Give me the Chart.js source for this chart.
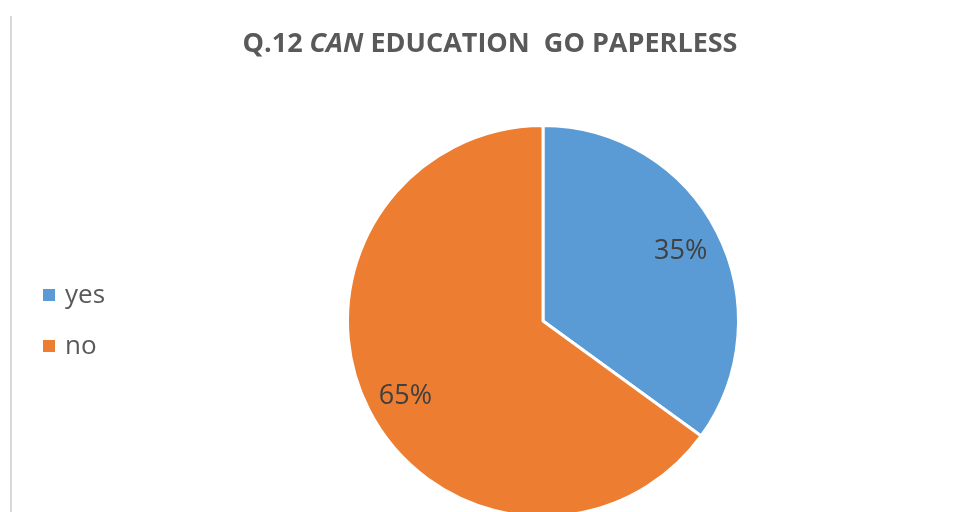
<!DOCTYPE html>
<html>
<head>
<meta charset="utf-8">
<script src="https://cdn.jsdelivr.net/npm/chart.js@4/dist/chart.umd.min.js"></script>
<style>
  html, body { margin: 0; padding: 0; background: #ffffff; overflow: hidden; }
  #wrap { position: relative; width: 955px; height: 530px; }
</style>
</head>
<body>
<div id="wrap"><canvas id="chart"></canvas></div>
<script>
// Survey answers for question 12
const categories = ['yes', 'no'];
const shares = [35, 65];
const sliceColors = ['#5B9BD5', '#ED7D31'];
const titleParts = [
  { text: 'Q.12 ', italic: false },
  { text: 'CAN', italic: true },
  { text: ' EDUCATION  GO PAPERLESS', italic: false }
];

const FONT = '"Open Sans", "Liberation Sans", sans-serif';

// Frame line, title, legend and percentage labels
const decorations = {
  id: 'decorations',
  beforeDraw(chart) {
    const ctx = chart.ctx;
    ctx.save();
    ctx.fillStyle = '#d9d9d9';
    ctx.fillRect(10, 16, 2, chart.height);
    ctx.restore();
  },
  afterDraw(chart) {
    const ctx = chart.ctx;
    ctx.save();

    // title with an italic word
    const fonts = titleParts.map(p => (p.italic ? 'italic ' : '') + 'bold 27px ' + FONT);
    let total = 0;
    const widths = titleParts.map((p, i) => { ctx.font = fonts[i]; const w = ctx.measureText(p.text).width; total += w; return w; });
    let x = 490 - total / 2;
    ctx.fillStyle = '#595959';
    ctx.textBaseline = 'alphabetic';
    ctx.textAlign = 'left';
    titleParts.forEach((p, i) => { ctx.font = fonts[i]; ctx.fillText(p.text, x, 52); x += widths[i]; });

    // legend
    ctx.font = '26px ' + FONT;
    categories.forEach((c, i) => {
      const y = 289 + i * 51;
      ctx.fillStyle = sliceColors[i];
      ctx.fillRect(43, y, 12, 12);
      ctx.fillStyle = '#595959';
      ctx.fillText(c, 65, y + 14);
    });

    // percentage labels inside slices
    const meta = chart.getDatasetMeta(0);
    const sum = shares.reduce((a, b) => a + b, 0);
    ctx.font = '27px ' + FONT;
    ctx.fillStyle = '#404040';
    ctx.textAlign = 'center';
    ctx.textBaseline = 'middle';
    meta.data.forEach((arc, i) => {
      const mid = (arc.startAngle + arc.endAngle) / 2;
      const r = arc.outerRadius * 0.79;
      const lx = arc.x + Math.cos(mid) * r;
      const ly = arc.y + Math.sin(mid) * r + (Math.cos(mid) < 0 ? 5 : 0);
      ctx.fillText(Math.round(shares[i] / sum * 100) + '%', lx, ly);
    });
    ctx.restore();
  }
};

new Chart(document.getElementById('chart'), {
  type: 'pie',
  data: {
    labels: categories,
    datasets: [{
      data: shares,
      backgroundColor: sliceColors,
      borderColor: '#ffffff',
      borderWidth: 3
    }]
  },
  options: {
    responsive: true,
    maintainAspectRatio: false,
    animation: false,
    layout: { padding: { left: 346, right: 215, top: 124, bottom: 12 } },
    plugins: {
      legend: { display: false },
      title: { display: false },
      tooltip: { enabled: false }
    }
  },
  plugins: [decorations]
});
</script>
</body>
</html>
